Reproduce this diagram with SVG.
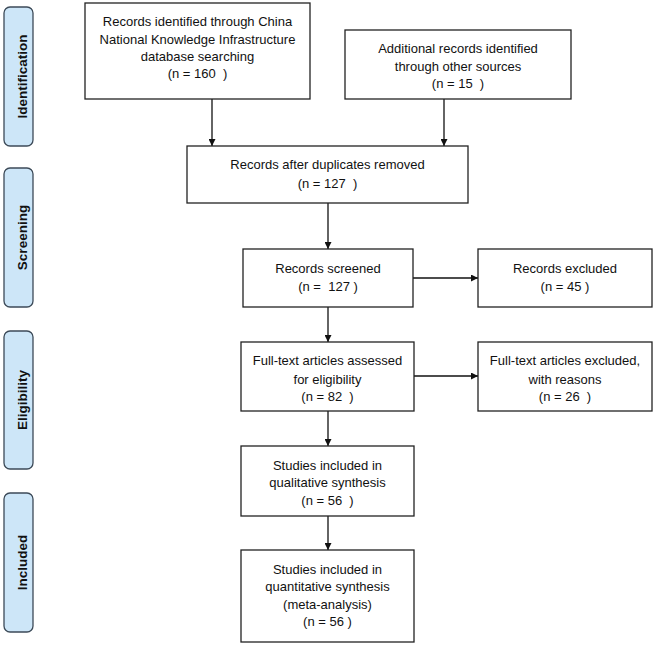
<svg xmlns="http://www.w3.org/2000/svg" width="656" height="647" viewBox="0 0 656 647">
<style>
.box{fill:#fff;stroke:#222;stroke-width:1.3}
.side{fill:#cde6f8;stroke:#3c4a58;stroke-width:1.3}
.t{font-family:"Liberation Sans",Arial,sans-serif;font-size:13px;fill:#111;text-anchor:middle;white-space:pre}
.s{font-family:"Liberation Sans",Arial,sans-serif;font-size:13.5px;font-weight:bold;fill:#111;text-anchor:middle}
.c{stroke:#111;stroke-width:1.3;fill:none;marker-end:url(#ah)}
</style>
<defs>
<marker id="ah" viewBox="0 0 10 10" refX="10" refY="5" markerWidth="7" markerHeight="7" markerUnits="userSpaceOnUse" orient="auto">
<path d="M0,0 L10,5 L0,10 z" fill="#111"/>
</marker>
</defs>
<rect width="656" height="647" fill="#fff"/>
<g id="phases">
<g id="identification"><rect class="side" x="4" y="7" width="29" height="139" rx="6"/><text class="s" transform="translate(27,76.5) rotate(-90)">Identification</text></g>
<g id="screening"><rect class="side" x="4" y="168" width="29" height="139" rx="6"/><text class="s" transform="translate(27,237.5) rotate(-90)">Screening</text></g>
<g id="eligibility"><rect class="side" x="4" y="331" width="29" height="138" rx="6"/><text class="s" transform="translate(27,400) rotate(-90)">Eligibility</text></g>
<g id="included"><rect class="side" x="4" y="493" width="29" height="139" rx="6"/><text class="s" transform="translate(27,562.5) rotate(-90)">Included</text></g>
</g>
<g id="connectors">
<line class="c" x1="212" y1="99" x2="212" y2="146"/>
<line class="c" x1="444" y1="99" x2="444" y2="146"/>
<line class="c" x1="328" y1="203" x2="328" y2="249"/>
<line class="c" x1="328" y1="307" x2="328" y2="342"/>
<line class="c" x1="328" y1="411" x2="328" y2="446"/>
<line class="c" x1="328" y1="516" x2="328" y2="550"/>
<line class="c" x1="413" y1="278" x2="478" y2="278"/>
<line class="c" x1="414" y1="376" x2="478" y2="376"/>
</g>
<g id="n1"><rect class="box" x="85" y="3" width="225" height="96"/>
<text class="t" x="197.5" y="26">Records identified through China</text>
<text class="t" x="197.5" y="44">National Knowledge Infrastructure</text>
<text class="t" x="197.5" y="61">database searching</text>
<text class="t" x="197.5" y="78">(n = 160  )</text></g>
<g id="n2"><rect class="box" x="345" y="30" width="226" height="69"/>
<text class="t" x="458" y="53">Additional records identified</text>
<text class="t" x="458" y="70.5">through other sources</text>
<text class="t" x="458" y="88">(n = 15  )</text></g>
<g id="n3"><rect class="box" x="187" y="146" width="281" height="57"/>
<text class="t" x="327.5" y="169">Records after duplicates removed</text>
<text class="t" x="327.5" y="188">(n = 127  )</text></g>
<g id="n4"><rect class="box" x="243" y="249" width="170" height="58"/>
<text class="t" x="328" y="273">Records screened</text>
<text class="t" x="328" y="290.5">(n =  127 )</text></g>
<g id="n5"><rect class="box" x="478" y="249" width="174" height="58"/>
<text class="t" x="565" y="273">Records excluded</text>
<text class="t" x="565" y="290.5">(n = 45 )</text></g>
<g id="n6"><rect class="box" x="241" y="342" width="173" height="69"/>
<text class="t" x="327.5" y="365">Full-text articles assessed</text>
<text class="t" x="327.5" y="383.5">for eligibility</text>
<text class="t" x="327.5" y="401">(n = 82  )</text></g>
<g id="n7"><rect class="box" x="478" y="342" width="174" height="69"/>
<text class="t" x="565" y="365">Full-text articles excluded,</text>
<text class="t" x="565" y="383.5">with reasons</text>
<text class="t" x="565" y="401">(n = 26  )</text></g>
<g id="n8"><rect class="box" x="241" y="446" width="173" height="70"/>
<text class="t" x="327.5" y="469.5">Studies included in</text>
<text class="t" x="327.5" y="487">qualitative synthesis</text>
<text class="t" x="327.5" y="504.5">(n = 56  )</text></g>
<g id="n9"><rect class="box" x="241" y="550" width="173" height="92"/>
<text class="t" x="327.5" y="573.5">Studies included in</text>
<text class="t" x="327.5" y="591">quantitative synthesis</text>
<text class="t" x="327.5" y="608.5">(meta-analysis)</text>
<text class="t" x="327.5" y="625.5">(n = 56 )</text></g>
</svg>
